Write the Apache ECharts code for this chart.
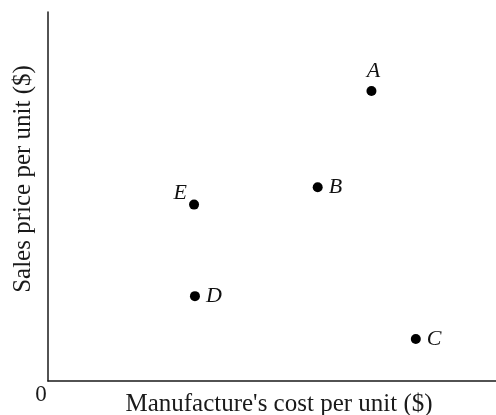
<!DOCTYPE html>
<html>
<head>
<meta charset="utf-8">
<script src="https://cdn.jsdelivr.net/npm/echarts@6/dist/echarts.min.js"></script>
<style>html,body{margin:0;padding:0;background:#fff;}#c{width:496px;height:415px;}</style>
</head>
<body>
<div id="c"></div>
<script>
const pointNames = ['A', 'B', 'C', 'D', 'E'];
const costValues = [72.2, 60.2, 82.1, 32.8, 32.6];
const priceValues = [78.6, 52.5, 11.4, 23.0, 47.8];
const labelSides = ['top', 'right', 'right', 'right', 'left'];
const xTitle = "Manufacture's cost per unit ($)";
const yTitle = 'Sales price per unit ($)';
const originLabel = '0';

const FONT = '"Liberation Serif", "DejaVu Serif", serif';
const chart = echarts.init(document.getElementById('c'));

const data = pointNames.map((n, i) => {
  const lab = { show: true, position: labelSides[i], formatter: n, distance: 6 };
  if (n === 'E') { lab.distance = 2; lab.offset = [0, -11]; }
  if (n === 'A') { lab.distance = 4; lab.offset = [2, 0]; }
  return { value: [costValues[i], priceValues[i]], name: n, label: lab };
});

chart.setOption({
  animation: false,
  grid: { left: 48, right: 0, top: 12, bottom: 34, outerBoundsMode: 'none', containLabel: false },
  xAxis: {
    type: 'value', min: 0, max: 100,
    name: xTitle, nameLocation: 'middle', nameGap: 11,
    nameTextStyle: { fontFamily: FONT, fontSize: 25, color: '#1a1a1a', padding: [0, 0, 0, 14] },
    axisLine: { show: true, lineStyle: { color: '#1a1a1a', width: 1.5 } },
    axisTick: { show: false }, axisLabel: { show: false }, splitLine: { show: false }
  },
  yAxis: {
    type: 'value', min: 0, max: 100,
    axisLine: { show: true, lineStyle: { color: '#1a1a1a', width: 1.5 } },
    axisTick: { show: false }, axisLabel: { show: false }, splitLine: { show: false }
  },
  graphic: [
    { type: 'text', x: 41, y: 395, style: { text: originLabel, font: '23px ' + FONT, fill: '#1a1a1a', align: 'center', verticalAlign: 'middle' } },
    { type: 'text', x: 23, y: 179, rotation: Math.PI / 2,
      style: { text: yTitle, font: '25px ' + FONT, fill: '#1a1a1a', align: 'center', verticalAlign: 'middle' } }
  ],
  series: [{
    type: 'scatter',
    symbol: 'circle', symbolSize: 10,
    itemStyle: { color: '#000', opacity: 1 },
    label: { fontFamily: FONT, fontStyle: 'italic', fontSize: 22, color: '#111' },
    data: data
  }]
});
</script>
</body>
</html>
